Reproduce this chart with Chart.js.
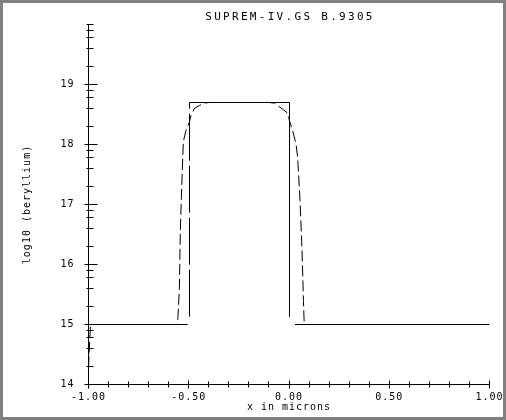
<!DOCTYPE html>
<html>
<head>
<meta charset="utf-8">
<script src="https://cdn.jsdelivr.net/npm/chart.js@4"></script>
<style>
  html, body { margin: 0; padding: 0; background: #fff; }
  canvas { display: block; }
</style>
</head>
<body>
<canvas id="chart" width="506" height="420"></canvas>
<script>
// plot text
const titleText = 'SUPREM-IV.GS B.9305';
const xTitle = 'x in microns';
const yTitle = 'log10 (beryllium)';

// axis ticks
const xMajor = [-1, -0.5, 0, 0.5, 1];
const xTickLabels = ['-1.00', '-0.50', '0.00', '0.50', '1.00'];
const yMajor = [14, 15, 16, 17, 18, 19];
const yMinorMantissas = [2, 4, 6, 8];

// initial box profile (solid)
const boxX = [-1.00, -0.505, -0.500, -0.4963, -0.4963, 0.0025, 0.0025, 0.020, 0.030, 1.00];
const boxY = [15.00, 15.00, null, 15.13, 18.70, 18.70, 15.13, null, 15.00, 15.00];

// diffused profile (dashed)
const diffX = [-1.00, -0.99, -0.556, -0.547, -0.542, -0.534, -0.527, -0.514, -0.497, -0.489,
               -0.472, -0.447, -0.422, -0.400, -0.100, -0.073, -0.040, -0.006, 0.002, 0.018,
               0.035, 0.043, 0.055, 0.065, 0.072, 0.076, 1.00];
const diffY = [14.28, 15.00, 15.00, 15.57, 16.57, 17.40, 18.05, 18.23, 18.37, 18.48,
               18.60, 18.65, 18.69, 18.70, 18.70, 18.69, 18.61, 18.52, 18.40, 18.23,
               18.01, 17.79, 17.07, 16.23, 15.40, 15.00, 15.00];

const toPoints = (xs, ys) => xs.map((x, i) => ({x: x, y: ys[i]}));

// build tick lists
const yTickValues = [];
yMajor.forEach(d => {
    yTickValues.push(d);
    yMinorMantissas.forEach(m => yTickValues.push(d + Math.log10(m)));
});
yTickValues.push(20);

const xTickValues = [];
for (let i = -10; i <= 10; i++) xTickValues.push(i / 10);

const isXMajor = v => xMajor.some(m => Math.abs(m - v) < 1e-6);
const isYMajor = v => yMajor.some(m => Math.abs(m - v) < 1e-6);

const framePlugin = {
    id: 'frame',
    beforeDraw(chart) {
        const ctx = chart.ctx;
        ctx.save();
        ctx.fillStyle = '#fff';
        ctx.fillRect(0, 0, chart.width, chart.height);
        ctx.restore();
        ctx.letterSpacing = '1px';
    },
    afterDraw(chart) {
        const ctx = chart.ctx;
        const xs = chart.scales.x, ys = chart.scales.y;
        const ax = Math.floor(xs.left) + 0.5;
        const ay = Math.floor(ys.bottom) + 0.5;

        ctx.save();
        ctx.strokeStyle = '#000';
        ctx.lineWidth = 1;
        ctx.beginPath();
        // y axis ticks (crossing the axis)
        yTickValues.forEach(v => {
            const py = Math.floor(ys.getPixelForValue(v)) + 0.5;
            if (isYMajor(v)) {
                ctx.moveTo(ax - 4, py); ctx.lineTo(ax + 9, py);
            } else {
                ctx.moveTo(ax - 2, py); ctx.lineTo(ax + 5, py);
            }
        });
        // x axis ticks
        xTickValues.forEach(v => {
            const px = Math.floor(xs.getPixelForValue(v)) + 0.5;
            if (isXMajor(v)) {
                ctx.moveTo(px, ay - 4); ctx.lineTo(px, ay + 4);
            } else {
                ctx.moveTo(px, ay - 3); ctx.lineTo(px, ay + 3);
            }
        });
        ctx.stroke();

        // title
        ctx.fillStyle = '#000';
        ctx.font = '11px "DejaVu Sans Mono"';
        ctx.letterSpacing = '2.3px';
        ctx.textAlign = 'center';
        ctx.textBaseline = 'middle';
        ctx.fillText(titleText, (chart.chartArea.left + chart.chartArea.right) / 2 + 1, 17);

        // outer frame
        ctx.letterSpacing = '0px';
        ctx.strokeStyle = '#808080';
        ctx.lineWidth = 3;
        ctx.strokeRect(1.5, 1.5, chart.width - 3, chart.height - 3);
        ctx.restore();
    }
};

const monoFont = {family: '"DejaVu Sans Mono"', size: 10};

new Chart(document.getElementById('chart'), {
    type: 'line',
    data: {
        datasets: [{
            data: toPoints(boxX, boxY),
            borderColor: '#000',
            borderWidth: 1,
            pointRadius: 0,
            tension: 0,
            segment: {
                borderDash: ctx => ctx.p0.parsed.x === ctx.p1.parsed.x ? [47, 5] : undefined
            }
        }, {
            data: toPoints(diffX, diffY),
            borderColor: '#000',
            borderWidth: 1,
            borderDash: [11, 4],
            pointRadius: 0,
            tension: 0
        }]
    },
    options: {
        responsive: false,
        devicePixelRatio: 1,
        animation: false,
        layout: {padding: {top: 24.5, right: 16.5, left: 0, bottom: 0}},
        plugins: {legend: {display: false}, tooltip: {enabled: false}},
        scales: {
            x: {
                type: 'linear',
                min: -1,
                max: 1,
                grid: {display: false, drawTicks: true, tickLength: 3},
                border: {display: true, color: '#000', width: 1},
                afterBuildTicks: s => { s.ticks = xTickValues.map(v => ({value: v})); },
                afterFit: s => { s.height = 35.5; },
                ticks: {
                    autoSkip: false,
                    maxRotation: 0,
                    padding: 4,
                    color: '#000',
                    font: monoFont,
                    callback: v => {
                        const i = xMajor.findIndex(m => Math.abs(m - v) < 1e-6);
                        return i >= 0 ? xTickLabels[i] : '';
                    }
                },
                title: {display: true, text: xTitle, color: '#000', font: monoFont, padding: {top: 0, bottom: 7}}
            },
            y: {
                type: 'linear',
                min: 14,
                max: 20,
                grid: {display: false, drawTicks: false},
                border: {display: true, color: '#000', width: 1},
                afterBuildTicks: s => { s.ticks = yTickValues.map(v => ({value: v})); },
                afterFit: s => { s.width = 88.5; },
                ticks: {
                    autoSkip: false,
                    padding: 14,
                    color: '#000',
                    font: monoFont,
                    callback: v => isYMajor(v) ? String(Math.round(v)) : ''
                },
                title: {display: true, text: yTitle, color: '#000', font: monoFont, padding: {top: 21, bottom: 0}}
            }
        }
    },
    plugins: [framePlugin]
});
</script>
</body>
</html>
